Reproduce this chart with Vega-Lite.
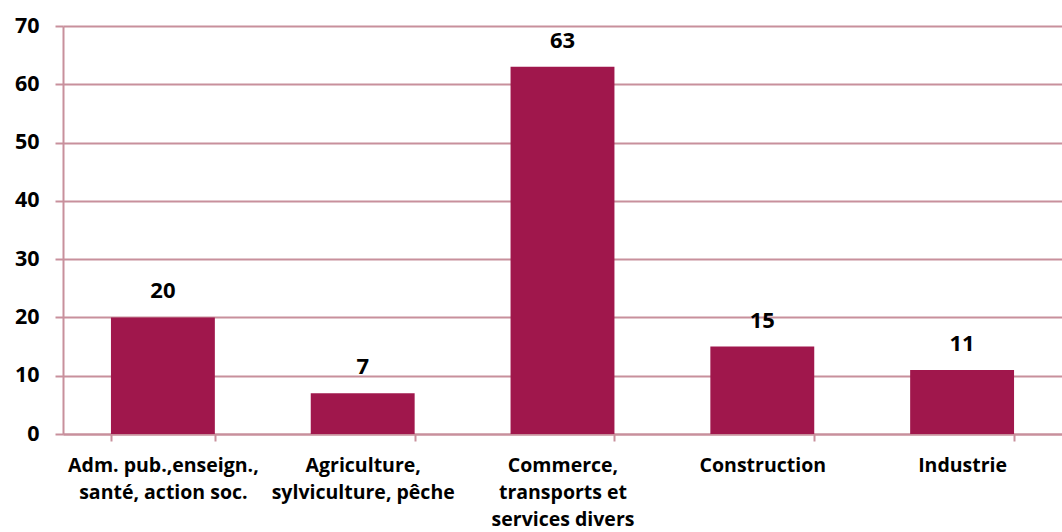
{
  "$schema": "https://vega.github.io/schema/vega-lite/v6.json",
  "width": 999,
  "height": 408,
  "autosize": {"type": "none"},
  "padding": {"left": 63, "top": 26, "right": 0, "bottom": 98},
  "background": "white",
  "config": {"view": {"stroke": null}},
  "data": {"values": [
    {"secteur": "Adm. pub.,enseign.,|santé, action soc.", "valeur": 20},
    {"secteur": "Agriculture,|sylviculture, pêche", "valeur": 7},
    {"secteur": "Commerce,|transports et|services divers", "valeur": 63},
    {"secteur": "Construction", "valeur": 15},
    {"secteur": "Industrie", "valeur": 11}
  ]},
  "encoding": {
    "x": {
      "field": "secteur", "type": "nominal", "sort": null,
      "scale": {"paddingInner": 0.48, "paddingOuter": 0.24},
      "axis": {
        "title": null, "labelAngle": 0, "labelLimit": 400,
        "labelExpr": "split(datum.label, '|')",
        "labelFont": "Open Sans", "labelFontWeight": "bold", "labelFontSize": 19.5,
        "labelColor": "#000000", "labelLineHeight": 27, "labelPadding": 15,
        "tickBand": "extent", "tickSize": 7, "tickColor": "#C8909C", "tickWidth": 2,
        "domainColor": "#C8909C", "domainWidth": 2, "grid": false
      }
    },
    "y": {
      "field": "valeur", "type": "quantitative",
      "scale": {"domain": [0, 70]},
      "axis": {
        "title": null, "values": [0, 10, 20, 30, 40, 50, 60, 70],
        "labelFont": "Open Sans", "labelFontWeight": "bold", "labelFontSize": 21.5,
        "labelColor": "#000000", "labelPadding": 16,
        "tickSize": 8, "tickColor": "#C8909C", "tickWidth": 2,
        "domainColor": "#C8909C", "domainWidth": 2,
        "grid": true, "gridColor": "#C8909C", "gridWidth": 2
      }
    }
  },
  "layer": [
    {"mark": {"type": "bar", "color": "#A0174C"}},
    {"mark": {"type": "text", "dy": -19, "font": "Open Sans", "fontWeight": "bold", "fontSize": 22, "color": "#000000", "baseline": "alphabetic"},
     "encoding": {"text": {"field": "valeur", "type": "quantitative"}}}
  ]
}
